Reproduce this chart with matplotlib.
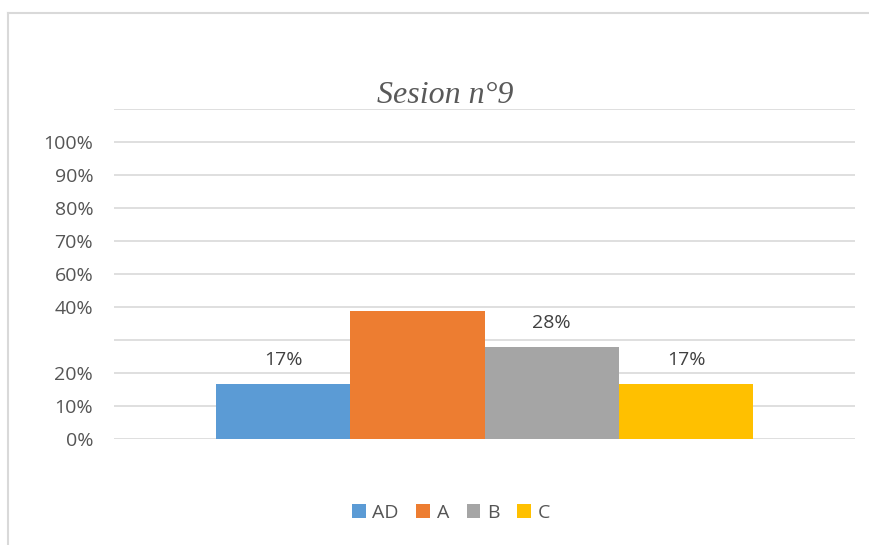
import matplotlib
matplotlib.use("Agg")
import matplotlib.pyplot as plt
from matplotlib.lines import Line2D
from matplotlib.patches import Patch
from matplotlib.font_manager import FontProperties

# Data
categories = ["AD", "A", "B", "C"]
values = [0.167, 0.389, 0.278, 0.167]
show_label = [True, False, True, True]
data_labels = ["17%", "39%", "28%", "17%"]
tick_labels = ["0%", "10%", "20%", "", "40%", "60%", "70%", "80%", "90%", "100%", ""]
colors = ["#5B9BD5", "#ED7D31", "#A5A5A5", "#FFC000"]
title = "Sesion n°9"

plt.rcParams["font.family"] = ["Open Sans", "DejaVu Sans"]

fig = plt.figure(figsize=(8.7, 5.45), dpi=100)
ax = fig.add_axes([114/870, 1-439/545, (855-114)/870, (439-109)/545])

x = list(range(len(categories)))
bars = ax.bar(x, values, width=1.0, color=colors, zorder=3)

gap = 102/134.5
ax.set_xlim(-0.5 - gap, len(categories) - 0.5 + gap)
yt = [i * 0.1 for i in range(len(tick_labels))]
ax.set_ylim(0, yt[-1])
ax.set_yticks(yt)
ax.set_yticklabels(tick_labels, color="#555555", fontsize=14)
ax.set_xticks([])
ax.yaxis.grid(True, color="#d9d9d9", linewidth=1.2, zorder=0)
ax.tick_params(axis="y", length=0, pad=15)
for s in ax.spines.values():
    s.set_visible(False)

for b, v, show, lab in zip(bars, values, show_label, data_labels):
    if show:
        ax.annotate(lab, (b.get_x() + b.get_width()/2, v), xytext=(0, 17.5),
                    textcoords="offset points", ha="center", va="center",
                    fontsize=14, color="#404040", zorder=4)

tfp = FontProperties(family="Liberation Serif", style="italic", size=23)
fig.text(445/870, 1-103/545, title, ha="center", va="baseline",
         fontproperties=tfp, color="#595959")

handles = [Patch(facecolor=c, edgecolor="none") for c in colors]
leg = fig.legend(handles, categories, loc="center", bbox_to_anchor=(451/870, 1-513/545),
                 ncol=4, frameon=False, fontsize=14, handlelength=0.7, handleheight=0.7,
                 handletextpad=0.35, columnspacing=0.9)
for t in leg.get_texts():
    t.set_color("#555555")

# chart border (top and left visible)
fig.add_artist(Line2D([8/870, 1.01], [1-13/545, 1-13/545], color="#d9d9d9", lw=1.5))
fig.add_artist(Line2D([8/870, 8/870], [-0.01, 1-13/545], color="#d9d9d9", lw=1.5))

fig.savefig("out.png", dpi=100)
